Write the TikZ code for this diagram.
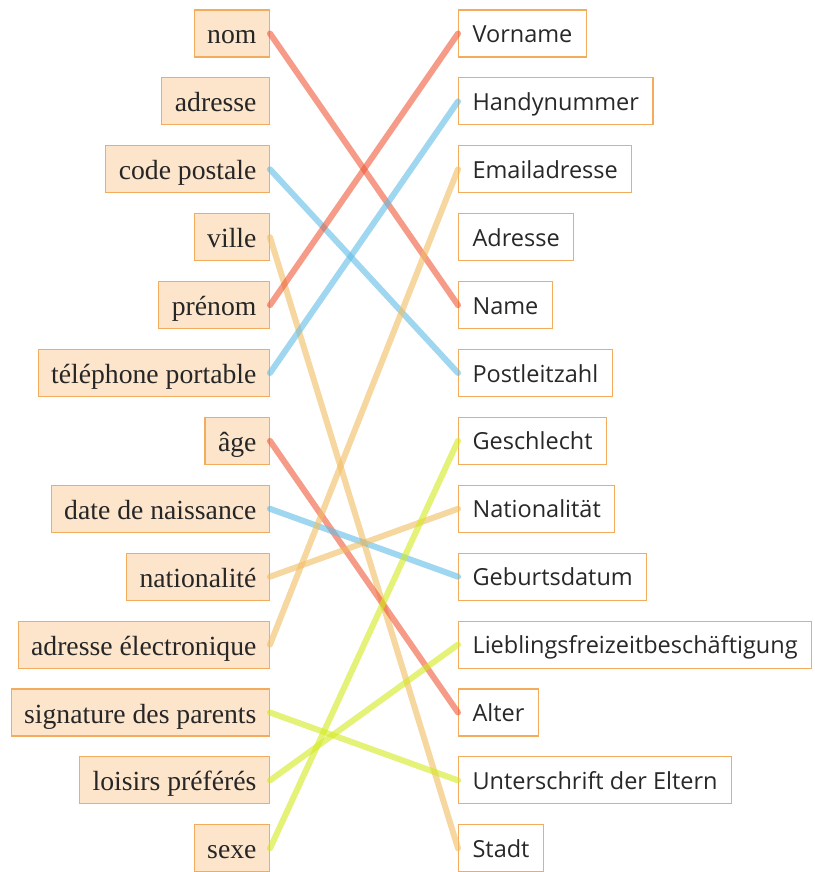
\documentclass[tikz,border=0pt]{standalone}
\usepackage{fontspec}
\setmainfont{Liberation Serif}
\newfontfamily\rsans{Open Sans}
\definecolor{lfill}{RGB}{253,229,204}
\definecolor{bord}{RGB}{242,172,92}
\definecolor{cred}{RGB}{238,88,55}
\definecolor{cblue}{RGB}{97,188,230}
\definecolor{corange}{RGB}{242,188,97}
\definecolor{cgreen}{RGB}{210,233,30}
\definecolor{rtext}{RGB}{40,40,40}
\begin{document}
\begin{tikzpicture}[x=1pt,y=-1pt,
  lbox/.style={draw=bord,fill=lfill,line width=1.1pt,minimum height=47pt,inner xsep=13pt,inner ysep=0pt,text height=21pt,text depth=0pt,anchor=east,font=\fontsize{27.7}{27.7}\selectfont,text=black!85},
  rbox/.style={draw=bord,fill=white,line width=1.1pt,minimum height=47pt,inner xsep=14pt,inner ysep=0pt,text height=18pt,text depth=0pt,anchor=west,font=\rsans\fontsize{23.5}{23.5}\selectfont,text=rtext},
  link/.style={line width=6pt,line cap=round,opacity=0.6},
  lr/.style={link,draw=cred},
  lb/.style={link,draw=cblue},
  lo/.style={link,draw=corange},
  lg/.style={link,draw=cgreen}]
\useasboundingbox (0,0) rectangle (814,872);
\def\ry#1{33.5+67.9*#1}
\node[lbox] (l0) at (270,{\ry{0}}) {nom};
\node[lbox] (l1) at (270,{\ry{1}}) {adresse};
\node[lbox] (l2) at (270,{\ry{2}}) {code postale};
\node[lbox] (l3) at (270,{\ry{3}}) {ville};
\node[lbox] (l4) at (270,{\ry{4}}) {prénom};
\node[lbox] (l5) at (270,{\ry{5}}) {téléphone portable};
\node[lbox] (l6) at (270,{\ry{6}}) {âge};
\node[lbox] (l7) at (270,{\ry{7}}) {date de naissance};
\node[lbox] (l8) at (270,{\ry{8}}) {nationalité};
\node[lbox] (l9) at (270,{\ry{9}}) {adresse électronique};
\node[lbox] (l10) at (270,{\ry{10}}) {signature des parents};
\node[lbox] (l11) at (270,{\ry{11}}) {loisirs préférés};
\node[lbox] (l12) at (270,{\ry{12}}) {sexe};
\node[rbox] (r0) at (458,{\ry{0}}) {Vorname};
\node[rbox] (r1) at (458,{\ry{1}}) {Handynummer};
\node[rbox] (r2) at (458,{\ry{2}}) {Emailadresse};
\node[rbox] (r3) at (458,{\ry{3}}) {Adresse};
\node[rbox] (r4) at (458,{\ry{4}}) {Name};
\node[rbox] (r5) at (458,{\ry{5}}) {Postleitzahl};
\node[rbox] (r6) at (458,{\ry{6}}) {Geschlecht};
\node[rbox] (r7) at (458,{\ry{7}}) {Nationalität};
\node[rbox] (r8) at (458,{\ry{8}}) {Geburtsdatum};
\node[rbox] (r9) at (458,{\ry{9}}) {Lieblingsfreizeitbeschäftigung};
\node[rbox] (r10) at (458,{\ry{10}}) {Alter};
\node[rbox] (r11) at (458,{\ry{11}}) {Unterschrift der Eltern};
\node[rbox] (r12) at (458,{\ry{12}}) {Stadt};
\draw[lr] (l0.east) -- (r4.west);
\draw[lb] (l2.east) -- (r5.west);
\draw[lo] (l3.east) -- (r12.west);
\draw[lr] (l4.east) -- (r0.west);
\draw[lb] (l5.east) -- (r1.west);
\draw[lr] (l6.east) -- (r10.west);
\draw[lb] (l7.east) -- (r8.west);
\draw[lo] (l8.east) -- (r7.west);
\draw[lo] (l9.east) -- (r2.west);
\draw[lg] (l10.east) -- (r11.west);
\draw[lg] (l11.east) -- (r9.west);
\draw[lg] (l12.east) -- (r6.west);
\end{tikzpicture}
\end{document}
